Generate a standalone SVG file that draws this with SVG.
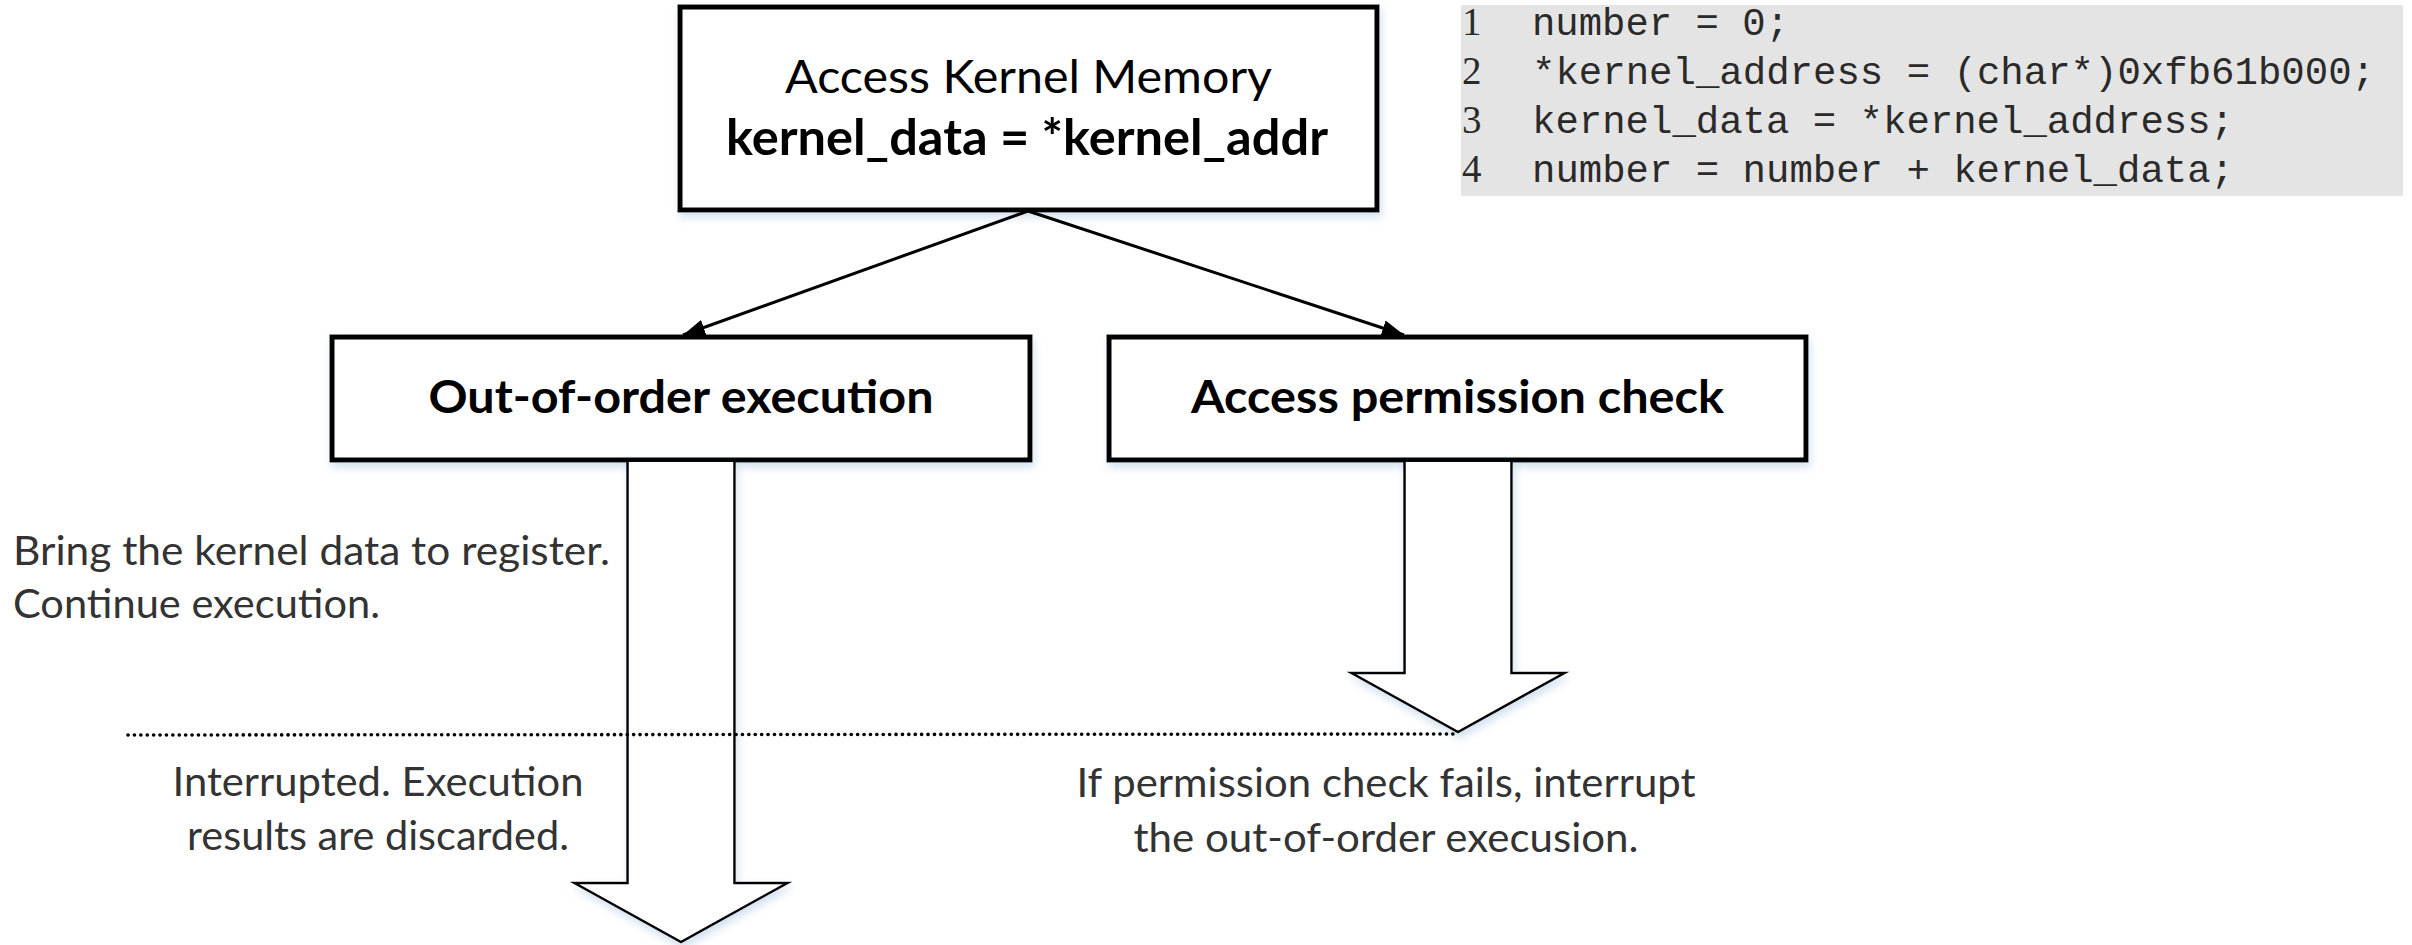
<svg xmlns="http://www.w3.org/2000/svg" width="2412" height="945" viewBox="0 0 2412 945">
<style>
.box{fill:#fff;stroke:#000;stroke-width:5}
.big{fill:#fff;stroke:#000;stroke-width:2.5;stroke-linejoin:miter}
.t{font-family:Lato,"Open Sans","Liberation Sans",sans-serif;fill:#000}
.b{font-weight:bold}
.note{font-family:Lato,"Open Sans","Liberation Sans",sans-serif;font-size:40px;fill:#333}
.code{font-family:"Liberation Mono","Courier New",monospace;font-size:39px;fill:#2a2a2a}
.num{font-family:"Liberation Serif","Times New Roman",serif;font-size:39px;fill:#2a2a2a}
.conn{stroke:#000;stroke-width:3;fill:none}
.dots{stroke:#000;stroke-width:3.6;stroke-dasharray:0.1 6.3;stroke-linecap:round;fill:none}
</style>
<defs>
<filter id="sh" x="-10%" y="-10%" width="120%" height="140%">
<feDropShadow dx="2" dy="5" stdDeviation="4" flood-color="#9dbbdc" flood-opacity="0.45"/>
</filter>
<marker id="ah" markerWidth="22" markerHeight="16" refX="22" refY="8" orient="auto" markerUnits="userSpaceOnUse">
<path d="M0,0 L22,8 L0,16 z" fill="#000"/>
</marker>
</defs>
<rect width="2412" height="945" fill="#fff"/>

<g id="code">
<rect x="1461" y="5" width="942" height="191" fill="#e4e4e4"/>
<text class="num" x="1462" y="35">1</text>
<text class="num" x="1462" y="84">2</text>
<text class="num" x="1462" y="133">3</text>
<text class="num" x="1462" y="182">4</text>
<text class="code" x="1532" y="35" xml:space="preserve" textLength="257" lengthAdjust="spacingAndGlyphs">number = 0;</text>
<text class="code" x="1532" y="84" xml:space="preserve" textLength="843" lengthAdjust="spacingAndGlyphs">*kernel_address = (char*)0xfb61b000;</text>
<text class="code" x="1532" y="133" xml:space="preserve" textLength="702" lengthAdjust="spacingAndGlyphs">kernel_data = *kernel_address;</text>
<text class="code" x="1532" y="182" xml:space="preserve" textLength="702" lengthAdjust="spacingAndGlyphs">number = number + kernel_data;</text>
</g>

<g id="access-kernel-memory">
<rect class="box" x="680" y="7" width="697" height="203" filter="url(#sh)"/>
<text class="t" x="1028.5" y="93" font-size="46" text-anchor="middle" textLength="487" lengthAdjust="spacingAndGlyphs">Access Kernel Memory</text>
<text class="t b" x="1027" y="155" font-size="50" text-anchor="middle" textLength="602" lengthAdjust="spacingAndGlyphs">kernel_data = *kernel_addr</text>
</g>

<g id="out-of-order">
<rect class="box" x="332" y="337" width="698" height="123" filter="url(#sh)"/>
<text class="t b" x="681" y="413" font-size="45" text-anchor="middle" textLength="505" lengthAdjust="spacingAndGlyphs">Out-of-order execution</text>
</g>

<g id="permission-check">
<rect class="box" x="1109" y="337" width="697" height="123" filter="url(#sh)"/>
<text class="t b" x="1457.5" y="413" font-size="45" text-anchor="middle" textLength="533" lengthAdjust="spacingAndGlyphs">Access permission check</text>
</g>

<g id="connectors">
<line class="conn" x1="1028" y1="211" x2="683" y2="335" marker-end="url(#ah)"/>
<line class="conn" x1="1028" y1="211" x2="1404" y2="335" marker-end="url(#ah)"/>
<path class="big" filter="url(#sh)" d="M627.5,462 V883 H574.5 L681,942 L787.5,883 H734.5 V462"/>
<path class="big" filter="url(#sh)" d="M1404.5,462 V673 H1351.5 L1458,732 L1564.5,673 H1511.5 V462"/>
<line class="dots" x1="128" y1="735" x2="1456" y2="734"/>
</g>

<g id="notes">
<text class="note" x="13" y="565" textLength="597" lengthAdjust="spacingAndGlyphs">Bring the kernel data to register.</text>
<text class="note" x="13" y="618" textLength="367" lengthAdjust="spacingAndGlyphs">Continue execution.</text>
<text class="note" x="378" y="796" text-anchor="middle" textLength="411" lengthAdjust="spacingAndGlyphs">Interrupted. Execution</text>
<text class="note" x="378" y="850" text-anchor="middle" textLength="382" lengthAdjust="spacingAndGlyphs">results are discarded.</text>
<text class="note" x="1386" y="797" text-anchor="middle" textLength="619" lengthAdjust="spacingAndGlyphs">If permission check fails, interrupt</text>
<text class="note" x="1386" y="852" text-anchor="middle" textLength="505" lengthAdjust="spacingAndGlyphs">the out-of-order execusion.</text>
</g>
</svg>
